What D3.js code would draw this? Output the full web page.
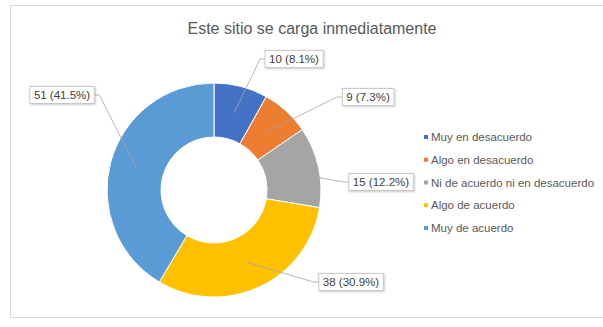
<!DOCTYPE html>
<html>
<head>
<meta charset="utf-8">
<script src="https://cdn.jsdelivr.net/npm/d3@7"></script>
<style>
  html, body { margin: 0; padding: 0; background: #fff; }
  svg { display: block; font-family: "Liberation Sans", Arial, sans-serif; }
</style>
</head>
<body>
<svg id="chart" width="603" height="327"></svg>
<script>
// Survey answers for "Este sitio se carga inmediatamente"
const categories = [
  "Muy en desacuerdo",
  "Algo en desacuerdo",
  "Ni de acuerdo ni en desacuerdo",
  "Algo de acuerdo",
  "Muy de acuerdo"
];
const counts = [10, 9, 15, 38, 51];
const colors = ["#4472C4", "#ED7D31", "#A5A5A5", "#FFC000", "#5B9BD5"];
const title = "Este sitio se carga inmediatamente";

// Where each data label box sits, as an offset from the donut centre
const labelOffsets = [[80, -131], [154, -93], [167, -8], [137, 92], [-152, -95]];

const W = 603, H = 327;
const cx = 214, cy = 190;
const outerR = 107, innerR = 53;

const svg = d3.select("#chart");

// chart area frame
svg.append("rect")
  .attr("x", 10.5).attr("y", 5.5)
  .attr("width", 600).attr("height", 312)
  .attr("fill", "#fff").attr("stroke", "#d9d9d9").attr("stroke-width", 1);

// title
svg.append("text")
  .attr("x", 312).attr("y", 34)
  .attr("text-anchor", "middle")
  .attr("font-size", 16)
  .attr("fill", "#595959")
  .text(title);

const total = d3.sum(counts);
const data = counts.map((v, i) => ({ name: categories[i], value: v, color: colors[i], off: labelOffsets[i] }));

const pie = d3.pie().value(d => d.value).sort(null);
const arcs = pie(data);
const arc = d3.arc().innerRadius(innerR).outerRadius(outerR);

const g = svg.append("g").attr("transform", `translate(${cx},${cy})`);

g.selectAll("path.slice")
  .data(arcs)
  .join("path")
  .attr("class", "slice")
  .attr("d", arc)
  .attr("fill", d => d.data.color)
  .attr("stroke", "#fff")
  .attr("stroke-width", 1);

// soft shadow for label boxes
const defs = svg.append("defs");
const f = defs.append("filter").attr("id", "shadow")
  .attr("x", "-20%").attr("y", "-30%").attr("width", "140%").attr("height", "160%");
f.append("feDropShadow").attr("dx", 0.8).attr("dy", 0.8).attr("stdDeviation", 1)
  .attr("flood-color", "#000").attr("flood-opacity", 0.25);

const fmt = d3.format(".1f");
const labels = g.append("g");

arcs.forEach(a => {
  const txt = `${a.data.value} (${fmt(a.data.value / total * 100)}%)`;
  const [lx, ly] = a.data.off;
  const t = labels.append("text")
    .attr("x", lx).attr("y", ly)
    .attr("text-anchor", "middle")
    .attr("dominant-baseline", "central")
    .attr("font-size", 11.5)
    .attr("fill", "#404040")
    .text(txt);
  const bb = t.node().getBBox();
  const padX = 4, padY = 2.5;
  const bx = bb.x - padX, by = bb.y - padY, bw = bb.width + 2 * padX, bh = bb.height + 2 * padY;

  // leader line: from box side, short horizontal, then to the ring's middle
  const [px, py] = arc.centroid(a);
  const leftSide = px < bx;
  const sx = leftSide ? bx : bx + bw;
  const hx = leftSide ? sx - 5 : sx + 5;
  labels.insert("path", "text")
    .attr("d", `M${sx},${ly}L${hx},${ly}L${px},${py}`)
    .attr("fill", "none")
    .attr("stroke", "#a6a6a6")
    .attr("stroke-width", 0.8);

  labels.insert("rect", "text")
    .attr("x", bx).attr("y", by)
    .attr("width", bw).attr("height", bh)
    .attr("fill", "#fff")
    .attr("stroke", "#bfbfbf")
    .attr("stroke-width", 0.8)
    .attr("filter", "url(#shadow)");
});

// legend
const legY = d3.scalePoint().domain(categories).range([137, 228]);
const leg = svg.append("g");
const items = leg.selectAll("g").data(data).join("g")
  .attr("transform", d => `translate(426,${legY(d.name)})`);
items.append("rect")
  .attr("x", -2).attr("y", -2).attr("width", 4).attr("height", 4)
  .attr("fill", d => d.color);
items.append("text")
  .attr("x", 5).attr("y", 0)
  .attr("dominant-baseline", "central")
  .attr("font-size", 11.5)
  .attr("fill", "#595959")
  .text(d => d.name);
</script>
</body>
</html>
